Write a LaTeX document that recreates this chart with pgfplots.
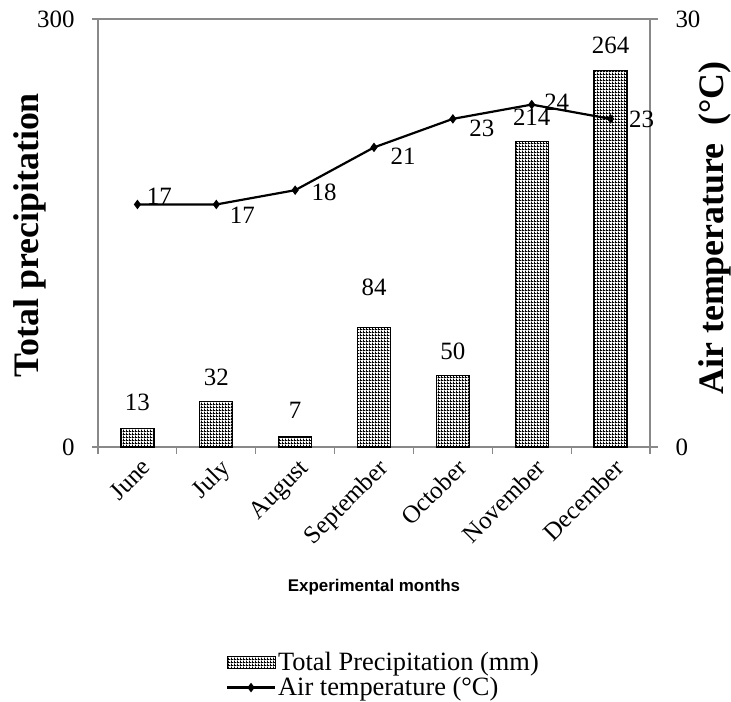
\documentclass[border=0pt]{standalone}
\usepackage{pgfplots}
\pgfplotsset{compat=1.18}
\usepackage{pgfplotstable}
\usepackage{fontspec}
\setmainfont{Liberation Serif}
\newfontfamily\tnr{Liberation Serif}
\newfontfamily\arial{Liberation Sans}
\usetikzlibrary{patterns}
\definecolor{axgray}{HTML}{898989}
\pgfdeclarepatternformonly{checker}{\pgfpointorigin}{\pgfpoint{3bp}{3bp}}{\pgfpoint{3bp}{3bp}}{%
  \pgfpathrectangle{\pgfpointorigin}{\pgfpoint{3bp}{1.1bp}}%
  \pgfpathrectangle{\pgfpointorigin}{\pgfpoint{1.1bp}{3bp}}%
  \pgfusepath{fill}}

\pgfplotstableread{
x y dy
0 13 26
1 32 24
2 7 27
3 84 40
4 50 24
5 214 24
6 264 25
}\prec

\pgfplotstableread{
x t dx dy
0 17 22 8
1 17 26 -11
2 18 29 -2
3 21 29 -9
4 23 29 -10
5 24 25 2
6 23 31 -1
}\temp

\begin{document}
\begin{tikzpicture}[x=1bp,y=1bp]
\path[use as bounding box] (-98,-255) rectangle (633,447);
\begin{axis}[
  at={(0,0)}, anchor=south west,
  scale only axis, width=552bp, height=428bp,
  xmin=-0.5, xmax=6.5, ymin=0, ymax=300,
  axis y line*=left, axis x line*=bottom,
  axis line style={axgray, line width=1.2bp},
  every tick/.style={axgray, line width=1.2bp},
  tick align=outside,
  major tick length=6bp, minor tick length=7bp,
  ytick={0,300},
  ymajorgrids, grid style={axgray, line width=1.2bp},
  xtick={0,...,6},
  xticklabels={June,July,August,September,October,November,December},
  major x tick style={draw=none},
  minor xtick={-0.5,0.5,...,6.5},
  /pgf/number format/assume math mode=true,
  ticklabel style={font=\tnr\fontsize{25}{28}\selectfont},
  xticklabel style={rotate=45, anchor=north east, inner sep=1bp, yshift=-4bp},
  yticklabel style={xshift=-14bp},
  every axis y label/.style={at={(axis description cs:-0.123,0.495)}, rotate=90, anchor=center},
  ylabel={\tnr\fontsize{36}{40}\selectfont\bfseries Total precipitation},
  every axis x label/.style={at={(axis description cs:0.5,-0.327)}, anchor=center},
  xlabel={\arial\bfseries\fontsize{17}{20}\selectfont Experimental months},
  legend style={at={(axis description cs:0.226,-0.47)}, anchor=north west,
    draw=none, fill=none, font=\tnr\fontsize{26.5}{30}\selectfont, row sep=1.5bp,
    legend cell align=left},
]
\addplot[ybar, bar width=33bp, draw=black, line width=1.2bp,
  pattern=checker, pattern color=black,
  nodes near coords,
  visualization depends on={\thisrow{dy} \as \dy},
  every node near coord/.append style={anchor=center, yshift=\dy bp, font=\tnr\fontsize{25}{28}\selectfont, black},
  legend image code/.code={\draw[pattern=checker, pattern color=black, draw=black, line width=0.8bp] (0bp,-6bp) rectangle (48bp,6bp);}
] table[x=x, y=y, meta=y] {\prec};
\addlegendentry{Total Precipitation (mm)}
\addlegendimage{legend image code/.code={\draw[mark repeat=2, mark phase=2, black, line width=2.2bp, mark=diamond*, mark size=3bp] plot coordinates {(0bp,0bp) (24bp,0bp) (48bp,0bp)};}}
\addlegendentry{Air temperature (°C)}
\end{axis}
\begin{axis}[
  at={(0,0)}, anchor=south west,
  scale only axis, width=552bp, height=428bp,
  xmin=-0.5, xmax=6.5, ymin=0, ymax=30,
  axis y line*=right, axis x line=none,
  axis line style={axgray, line width=1.2bp},
  every tick/.style={axgray, line width=1.2bp},
  tick align=outside, major tick length=8bp,
  ytick={0,30},
  /pgf/number format/assume math mode=true,
  ticklabel style={font=\tnr\fontsize{25}{28}\selectfont},
  yticklabel style={anchor=west, xshift=14bp},
  every axis y label/.style={at={(axis description cs:1.118,0.512)}, rotate=90, anchor=center},
  ylabel={\tnr\fontsize{36}{40}\selectfont\bfseries Air temperature~ (°C)},
]
\addplot[black, line width=2.2bp, mark=diamond*, mark size=3bp,
  nodes near coords,
  visualization depends on={\thisrow{dx} \as \dx},
  visualization depends on={\thisrow{dy} \as \dy},
  every node near coord/.append style={anchor=center, xshift=\dx bp, yshift=\dy bp, font=\tnr\fontsize{25}{28}\selectfont, black}
] table[x=x, y=t, meta=t] {\temp};
\end{axis}
\end{tikzpicture}
\end{document}
